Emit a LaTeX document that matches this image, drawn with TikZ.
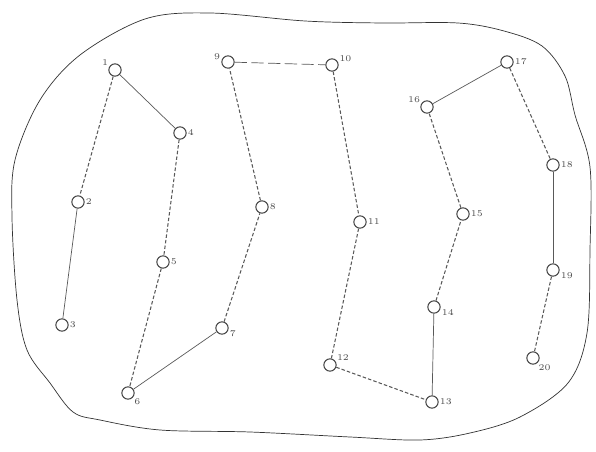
\documentclass[tikz,border=0pt]{standalone}
\usepackage{tikz}
\usetikzlibrary{positioning}

\tikzset{
  vtx/.style={circle, draw=black!75, semithick, inner sep=0pt, minimum size=7pt},
  lbl/.style={font=\tiny, text=black!70, inner sep=0.5pt},
  fulledge/.style={draw=black!65, thin},
  dashedge/.style={draw=black!65, semithick, dash pattern=on 2pt off 1.2pt},
  longdashedge/.style={draw=black!65, thin, dash pattern=on 7pt off 2.5pt}
}

\begin{document}
\begin{tikzpicture}[x=0.02cm, y=-0.02cm]
\useasboundingbox (0,0) rectangle (596,452);

% Umriss
\draw[black!80, thin] plot[smooth cycle, tension=0.55] coordinates {
  (145,19) (210,13) (305,21) (382,23) (458,23) (504,31) (542,46) (565,76)
  (575,115) (590,167) (590,250) (587,333) (568,383) (520,417) (470,433)
  (420,440) (350,437) (250,432) (160,430) (100,420) (73,412) (50,383)
  (27,350) (17,300) (12,217) (15,160) (40,100) (80,55) };

% Knoten
\foreach \n/\x/\y/\pos in {1/115/70/150, 2/78/202/0, 3/62/325/0, 4/180/133/0,
    5/163/262/0, 6/128/393/-40, 7/222/328/-10, 8/262/207/0, 9/228/62/170,
    10/332/65/20, 11/360/222/0, 12/330/365/30, 13/432/402/0, 14/434/307/-10,
    15/463/214/0, 16/427/107/150, 17/507/62/0, 18/553/165/0, 19/553/270/-10,
    20/533/358/-50} {
  \node[vtx, label={[lbl]\pos:\n}] (v\n) at (\x,\y) {};
}

% Kanten
\foreach \a/\b in {1/4, 2/3, 6/7, 13/14, 16/17, 18/19}
  \draw[fulledge] (v\a) -- (v\b);
\foreach \a/\b in {1/2, 4/5, 5/6, 7/8, 8/9, 10/11, 11/12, 12/13, 14/15,
    15/16, 17/18, 19/20}
  \draw[dashedge] (v\a) -- (v\b);
\draw[longdashedge] (v9) -- (v10);

\end{tikzpicture}
\end{document}
